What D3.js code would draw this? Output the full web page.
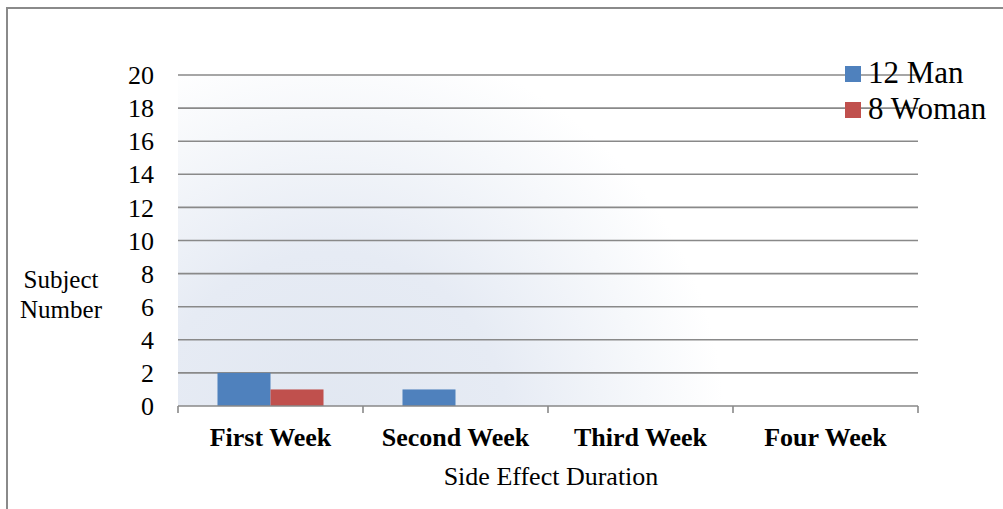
<!DOCTYPE html>
<html>
<head>
<meta charset="utf-8">
<script src="https://cdn.jsdelivr.net/npm/d3@7"></script>
<style>
  html, body { margin: 0; padding: 0; background: #fff; }
  svg { display: block; font-family: "Liberation Serif", "Times New Roman", serif; }
</style>
</head>
<body>
<svg id="chart" width="1003" height="509"></svg>
<script>
// Side effect duration by week, split by sex
const categories = ["First Week", "Second Week", "Third Week", "Four Week"];
const seriesNames = ["12 Man", "8 Woman"];
const manValues = [2, 1, 0, 0];
const womanValues = [1, 0, 0, 0];
const yTicks = [0, 2, 4, 6, 8, 10, 12, 14, 16, 18, 20];
const seriesColors = ["#4f81bd", "#c0504d"];

const seriesValues = [manValues, womanValues];
const svg = d3.select("#chart");
const W = 1003, H = 509;
const plot = { left: 178, right: 918, top: 75, bottom: 406 };

// outer chart frame
svg.append("rect")
  .attr("x", 7).attr("y", 8)
  .attr("width", W + 20).attr("height", H + 20)
  .attr("fill", "#fff")
  .attr("stroke", "#8a8a8a").attr("stroke-width", 2);

// soft blue wash across the plot area, fading out to the upper right
const defs = svg.append("defs");
const grad = defs.append("radialGradient")
  .attr("id", "plotWash")
  .attr("gradientUnits", "userSpaceOnUse")
  .attr("cx", 330).attr("cy", 430).attr("r", 395);
grad.append("stop").attr("offset", "0%").attr("stop-color", "#e1e7f1");
grad.append("stop").attr("offset", "45%").attr("stop-color", "#e6ebf4");
grad.append("stop").attr("offset", "80%").attr("stop-color", "#f6f8fb");
grad.append("stop").attr("offset", "100%").attr("stop-color", "#ffffff");

svg.append("rect")
  .attr("x", plot.left).attr("y", plot.top)
  .attr("width", plot.right - plot.left).attr("height", plot.bottom - plot.top)
  .attr("fill", "url(#plotWash)");

const x0 = d3.scaleBand().domain(categories).range([plot.left, plot.right]).paddingInner(0).paddingOuter(0);
const x1 = d3.scaleBand().domain(seriesNames).range([0, x0.bandwidth()]).paddingInner(0).paddingOuter(0.745);
const y = d3.scaleLinear().domain([0, 20]).range([plot.bottom, plot.top]);

// horizontal gridlines
svg.append("g")
  .selectAll("line")
  .data(yTicks.filter(d => d > 0))
  .join("line")
  .attr("x1", plot.left).attr("x2", plot.right)
  .attr("y1", d => y(d)).attr("y2", d => y(d))
  .attr("stroke", "#898989").attr("stroke-width", 1.6);

// y tick labels
svg.append("g")
  .selectAll("text")
  .data(yTicks)
  .join("text")
  .attr("x", 154).attr("y", d => y(d))
  .attr("dy", "0.35em")
  .attr("text-anchor", "end")
  .attr("font-size", 26)
  .attr("fill", "#000")
  .text(d => d);

// bars
const groups = svg.append("g")
  .selectAll("g")
  .data(categories)
  .join("g")
  .attr("transform", d => `translate(${x0(d)},0)`);

groups.selectAll("rect")
  .data((c, i) => seriesNames.map((s, k) => ({ s, v: seriesValues[k][i], color: seriesColors[k] })))
  .join("rect")
  .attr("x", d => x1(d.s))
  .attr("width", x1.bandwidth())
  .attr("y", d => y(d.v))
  .attr("height", d => y(0) - y(d.v))
  .attr("fill", d => d.color);

// category axis with tick marks between groups
const xAxis = d3.axisBottom(x0).tickSize(0).tickFormat("");
const axisG = svg.append("g").attr("transform", `translate(0,${plot.bottom})`).call(xAxis);
axisG.select(".domain").remove();
axisG.append("line")
  .attr("x1", plot.left).attr("x2", plot.right)
  .attr("stroke", "#898989").attr("stroke-width", 1.6);
const bounds = categories.map(c => x0(c)).concat([x0(categories[categories.length - 1]) + x0.bandwidth()]);
axisG.selectAll(".sep")
  .data(bounds)
  .join("line")
  .attr("class", "sep")
  .attr("x1", d => d).attr("x2", d => d)
  .attr("y1", 0).attr("y2", 7)
  .attr("stroke", "#898989").attr("stroke-width", 1.6);

svg.append("g")
  .selectAll("text")
  .data(categories)
  .join("text")
  .attr("x", d => x0(d) + x0.bandwidth() / 2)
  .attr("y", 446)
  .attr("text-anchor", "middle")
  .attr("font-size", 26)
  .attr("font-weight", "bold")
  .attr("fill", "#000")
  .text(d => d);

// axis titles
svg.append("text")
  .attr("x", 551).attr("y", 485)
  .attr("text-anchor", "middle")
  .attr("font-size", 26)
  .attr("fill", "#000")
  .text("Side Effect Duration");

const yTitle = svg.append("text")
  .attr("text-anchor", "middle")
  .attr("font-size", 25)
  .attr("fill", "#000");
yTitle.append("tspan").attr("x", 61).attr("y", 288).text("Subject");
yTitle.append("tspan").attr("x", 61).attr("y", 318).text("Number");

// legend
const legend = svg.append("g")
  .selectAll("g")
  .data(seriesNames)
  .join("g")
  .attr("transform", (d, i) => `translate(845,${66 + i * 36})`);
legend.append("rect")
  .attr("width", 16).attr("height", 16)
  .attr("fill", (d, i) => seriesColors[i]);
legend.append("text")
  .attr("x", 23).attr("y", 17)
  .attr("font-size", 31)
  .attr("fill", "#000")
  .text(d => d);
</script>
</body>
</html>
